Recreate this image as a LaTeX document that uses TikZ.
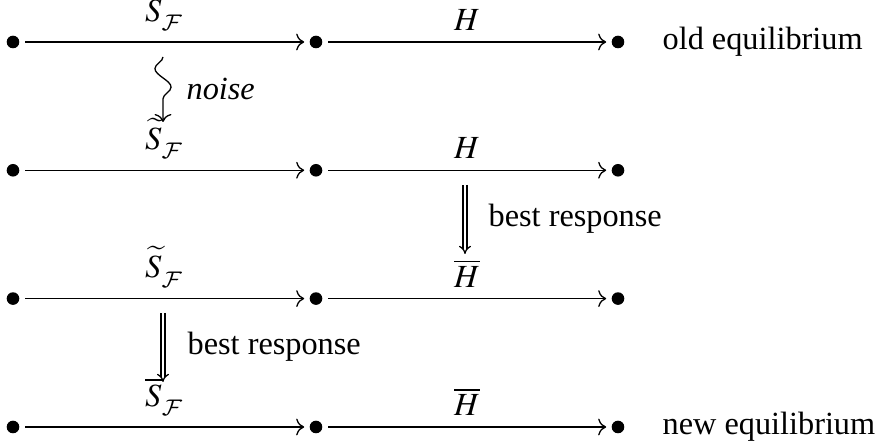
\documentclass[tikz,border=0pt]{standalone}
\usepackage{mathptmx}
\usepackage{fontspec}
\setmainfont{Liberation Serif}
\DeclareMathAlphabet{\mathcal}{OMS}{cmsy}{m}{n}
\usetikzlibrary{arrows.meta,decorations.pathmorphing}

% subscript F, set a little lower than the default
\newcommand{\subF}{_{\lower1.4pt\hbox{$\scriptstyle\mathcal F$}}}

\tikzset{
  pt/.style={circle,fill=black,inner sep=0pt,minimum size=3.9pt},
  map/.style={->,shorten <=1.7pt,shorten >=1.5pt},
  lab/.style={midway,above},
  brmap/.style={double,double distance=0.85pt,-{Implies}},
  noisemap/.style={->,decorate,decoration={snake,mirror,amplitude=2.5pt,segment length=11.5pt,post length=3pt}},
  side/.style={anchor=base west,inner sep=0pt},
}

\begin{document}
\begin{tikzpicture}[x=0.3096pt,y=-0.3096pt]
\useasboundingbox (0,0) rectangle (877,448);

% four rows of two composable maps
\foreach \r/\y in {1/42,2/170.3,3/298.6,4/427}{
  \node[pt] (p\r a) at (13,\y) {};
  \node[pt] (p\r b) at (316,\y) {};
  \node[pt] (p\r c) at (618,\y) {};
}

\draw[map] (p1a) -- (p1b) node[lab] (s1) {$S\subF$};
\draw[map] (p1b) -- (p1c) node[lab] (h1) {$H$};
\draw[map] (p2a) -- (p2b) node[lab] (s2) {$\widetilde{S}\subF$};
\draw[map] (p2b) -- (p2c) node[lab] (h2) {$H$};
\draw[map] (p3a) -- (p3b) node[lab] (s3) {$\widetilde{S}\subF$};
\draw[map] (p3b) -- (p3c) node[lab] (h3) {$\overline{H}$};
\draw[map] (p4a) -- (p4b) node[lab] (s4) {$\overline{S}\subF$};
\draw[map] (p4b) -- (p4c) node[lab] (h4) {$\overline{H}$};

\node[side] (old) at (662,50) {old equilibrium};
\node[side] (new) at (662,435) {new equilibrium};

% transitions between rows
\coordinate (n1) at (163,57);
\coordinate (n2) at (163,122);
\draw[noisemap] (n1) -- (n2);
\node[side] (noise) at (186,100) {\textit{noise}};

\coordinate (b1) at (465,185);
\coordinate (b2) at (465,254);
\draw[brmap] (b1) -- (b2);
\node[side] (br1) at (488,227) {best response};

\coordinate (c1) at (163,313);
\coordinate (c2) at (163,382);
\draw[brmap] (c1) -- (c2);
\node[side] (br2) at (187,355) {best response};
\end{tikzpicture}
\end{document}
